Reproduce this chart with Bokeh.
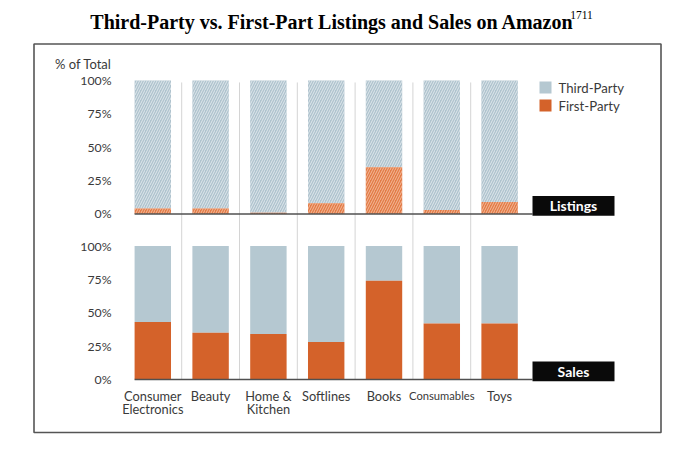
from bokeh.plotting import figure
from bokeh.models import Range1d, ColumnDataSource
from bokeh.core.properties import value
from bokeh.embed import file_html
from bokeh.resources import INLINE

# ---- data (percent of total) ----
categories = ["Consumer Electronics", "Beauty", "Home & Kitchen", "Softlines",
              "Books", "Consumables", "Toys"]
category_labels = [["Consumer", "Electronics"], ["Beauty"], ["Home &", "Kitchen"],
                   ["Softlines"], ["Books"], ["Consumables"], ["Toys"]]
listings_first_party = [4, 4, 1, 8, 35, 3, 9]
sales_first_party = [43, 35, 34, 28, 74, 42, 42]
listings_third_party = [100 - v for v in listings_first_party]
sales_third_party = [100 - v for v in sales_first_party]
tick_values = [0, 25, 50, 75, 100]
tick_labels = ["0%", "25%", "50%", "75%", "100%"]
series_names = ["Third-Party", "First-Party"]
panel_names = ["Listings", "Sales"]
title_text = "Third-Party vs. First-Part Listings and Sales on Amazon"
title_note = "1711"

# ---- layout helpers (page pixels -> data) ----
W, H = 684, 438
X0, DX = 152.3, 57.8          # page x of first category centre, spacing
Y0, DY = 379.0, 133.5         # page y of sales 0%, pixels per 100%
OFFSET = 1.24                 # listings panel offset (in units of 100%)


def px(page_x):
    return (page_x - X0) / DX


def py(page_y):
    return (Y0 - page_y) / DY


p = figure(width=W, height=H, output_backend="svg", toolbar_location=None,
           x_range=Range1d(px(0), px(W)), y_range=Range1d(py(H), py(0)),
           min_border=0, min_border_left=0, min_border_right=0,
           min_border_top=0, min_border_bottom=0)
p.axis.visible = False
p.grid.visible = False
p.outline_line_color = None
p.background_fill_color = "white"
p.border_fill_color = "white"

BLUE = "#B5C8D1"
ORANGE = "#D4622A"
TXT = "#3A3A3A"
FONT = value("Lato")

n = len(categories)
xs = list(range(n))
bw = 0.63

# frame box
p.quad(left=[px(33.5)], right=[px(660.5)], top=[py(43.5)], bottom=[py(432)],
       fill_color=None, line_color="#555555", line_width=1.6)

# separators
for i in range(n - 1):
    p.segment(x0=[i + 0.5], x1=[i + 0.5], y0=[0], y1=[OFFSET + 0.985],
              line_color="#D4D4D4", line_width=1)

# listings bars (hatched)
lf = [v / 100 for v in listings_first_party]
src_l = ColumnDataSource(dict(x=xs, fp=[OFFSET + v for v in lf],
                              top=[OFFSET + 1 for _ in xs], base=[OFFSET for _ in xs]))
p.vbar(x="x", width=bw, bottom="fp", top="top", source=src_l,
       fill_color="#AFC3CE", line_color=None, hatch_pattern="/",
       hatch_color="white", hatch_alpha=0.6, hatch_scale=5, hatch_weight=1)
p.vbar(x="x", width=bw, bottom="base", top="fp", source=src_l,
       fill_color="#E27B47", line_color=None, hatch_pattern="/",
       hatch_color="#F7C9AE", hatch_alpha=0.8, hatch_scale=5, hatch_weight=1)

# sales bars
sf = [v / 100 for v in sales_first_party]
src_s = ColumnDataSource(dict(x=xs, fp=sf, top=[1 for _ in xs]))
p.vbar(x="x", width=bw, bottom="fp", top="top", source=src_s,
       fill_color=BLUE, line_color=None)
p.vbar(x="x", width=bw, bottom=0, top="fp", source=src_s,
       fill_color=ORANGE, line_color=None)

# baselines
for base in [OFFSET, 0]:
    p.segment(x0=[-bw / 2], x1=[px(532)], y0=[base], y1=[base],
              line_color="#505050", line_width=1.4)

# panel label boxes
for base, name in zip([OFFSET, 0], panel_names):
    p.quad(left=[px(532)], right=[px(614)], bottom=[base - 0.013], top=[base + 0.135],
           fill_color="#0A0A0A", line_color=None)
    p.text(x=[px(573)], y=[base + 0.062], text=[name], text_color="white",
           text_font=FONT, text_font_style="bold", text_font_size="14px",
           text_align="center", text_baseline="middle")

# y tick labels
for base in [OFFSET, 0]:
    p.text(x=[px(111)] * len(tick_values), y=[base + t / 100 for t in tick_values],
           text=tick_labels, text_color=TXT, text_font=FONT, text_font_size="12.3px",
           text_align="right", text_baseline="middle")
p.text(x=[px(111)], y=[py(63)], text=["% of Total"], text_color=TXT, text_font=FONT,
       text_font_size="13px", text_align="right", text_baseline="middle")

# category labels
for i, lines in enumerate(category_labels):
    size = "11.2px" if lines[0] == "Consumables" else "12.8px"
    for j, line in enumerate(lines):
        p.text(x=[i], y=[py(395 + 13.5 * j)], text=[line], text_color=TXT,
               text_font=FONT, text_font_size=size, text_align="center",
               text_baseline="middle")

# legend
for k, (name, col) in enumerate(zip(series_names, [BLUE, ORANGE])):
    yy = py(87 + 18 * k)
    p.scatter(x=[px(545)], y=[yy], marker="square", size=12, fill_color=col,
              line_color=None)
    p.text(x=[px(558)], y=[yy], text=[name], text_color=TXT, text_font=FONT,
           text_font_size="13.2px", text_align="left", text_baseline="middle")

# title
p.text(x=[px(331.5)], y=[py(21)], text=[title_text], text_color="black",
       text_font=value("Liberation Serif"), text_font_style="bold",
       text_font_size="20px", text_align="center", text_baseline="middle")
p.text(x=[px(581)], y=[py(14)], text=[title_note], text_color="black",
       text_font=value("Liberation Serif"), text_font_size="11.5px",
       text_align="center", text_baseline="middle")

open("out.html", "w").write(file_html(p, INLINE))
